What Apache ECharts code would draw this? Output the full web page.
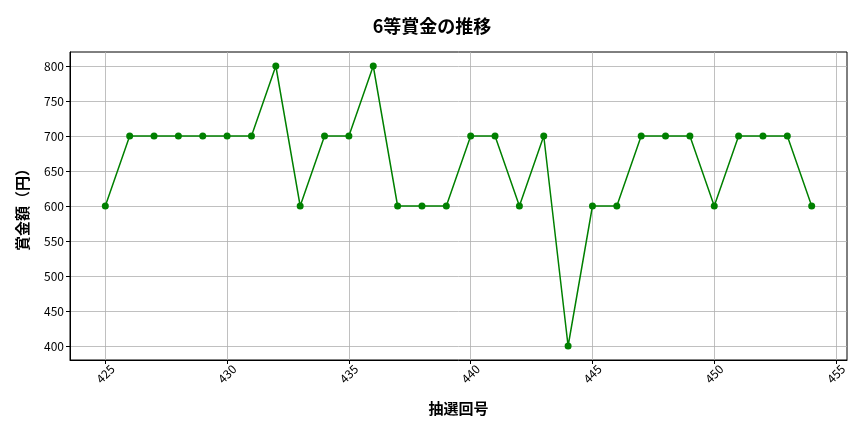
<!DOCTYPE html>
<html><head><meta charset="utf-8">
<script src="https://cdn.jsdelivr.net/npm/echarts@6/dist/echarts.min.js"></script>
<style>html,body{margin:0;padding:0;background:#fff}#c{width:864px;height:432px}</style>
</head><body><div id="c"></div>
<script>
const draws = [425,426,427,428,429,430,431,432,433,434,435,436,437,438,439,440,441,442,443,444,445,446,447,448,449,450,451,452,453,454];
const prizes = [600,700,700,700,700,700,700,800,600,700,700,800,600,600,600,700,700,600,700,400,600,600,700,700,700,600,700,700,700,600];
const xTicks = [425,430,435,440,445,450,455];
const yTicks = [400,450,500,550,600,650,700,750,800];
const font = '"Noto Sans CJK JP", "Noto Sans", sans-serif';
const chart = echarts.init(document.getElementById('c'));
chart.setOption({
  animation:false,
  title:{text:'6等賞金の推移',left:'center',top:12,textStyle:{fontFamily:font,fontSize:18,fontWeight:'bold',color:'#000'}},
  grid:{left:70,right:17,top:52,bottom:72,show:true,borderColor:'#000',borderWidth:1,backgroundColor:'transparent'},
  xAxis:{type:'value',min:423.55,max:455.45,
    name:'抽選回号',nameLocation:'middle',nameGap:41,nameTextStyle:{fontFamily:font,fontSize:15,fontWeight:'bold',color:'#000'},
    axisLine:{onZero:false,lineStyle:{color:'#000'}},
    axisTick:{show:true,length:4,customValues:xTicks,lineStyle:{color:'#000'}},
    axisLabel:{customValues:xTicks,rotate:45,align:'center',verticalAlign:'middle',fontFamily:font,fontSize:12,color:'#000',margin:14},
    splitLine:{show:true,lineStyle:{color:'#b0b0b0',width:0.8}}},
  yAxis:{type:'value',min:380,max:820,
    name:'賞金額（円）',nameLocation:'middle',nameGap:40,nameTextStyle:{fontFamily:font,fontSize:15,fontWeight:'bold',color:'#000'},
    axisLine:{show:true,lineStyle:{color:'#000'}},
    axisTick:{show:true,length:4,customValues:yTicks,lineStyle:{color:'#000'}},
    axisLabel:{customValues:yTicks,fontFamily:font,fontSize:12,color:'#000',margin:6},
    splitLine:{show:true,lineStyle:{color:'#b0b0b0',width:0.8}}},
  series:[{type:'line',data:draws.map((d,i)=>[d,prizes[i]]),
    symbol:'circle',symbolSize:7,
    lineStyle:{color:'#008000',width:1.5},itemStyle:{color:'#008000'}}]
});
</script></body></html>
